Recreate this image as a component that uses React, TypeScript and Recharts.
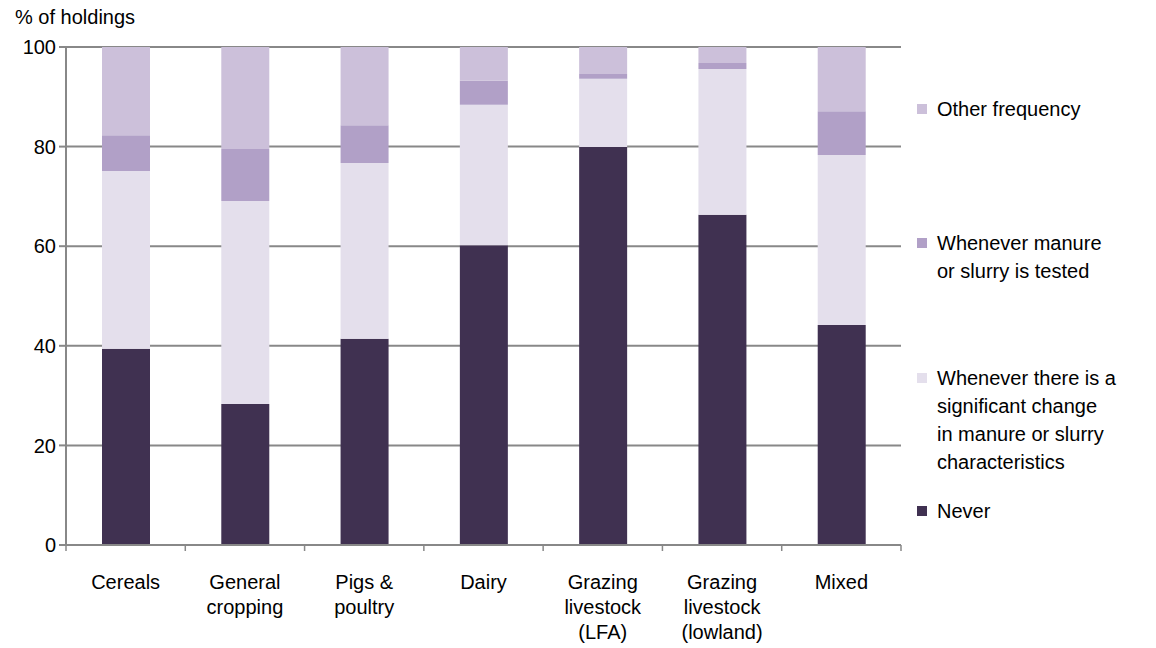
import React from 'react';
import { BarChart, Bar, XAxis, YAxis, CartesianGrid } from 'recharts';

const categories = [
  'Cereals',
  'General|cropping',
  'Pigs &|poultry',
  'Dairy',
  'Grazing|livestock|(LFA)',
  'Grazing|livestock|(lowland)',
  'Mixed',
];
const never = [39.4, 28.3, 41.4, 60.2, 79.9, 66.3, 44.2];
const significantChange = [35.7, 40.8, 35.3, 28.2, 13.7, 29.3, 34.1];
const whenTested = [7.2, 10.4, 7.6, 4.8, 1.0, 1.2, 8.8];
const otherFrequency = [17.7, 20.5, 15.7, 6.8, 5.4, 3.2, 12.9];
const yTicks = [0, 20, 40, 60, 80, 100];

const COLORS = {
  never: '#403151',
  change: '#e4dfec',
  tested: '#b1a0c7',
  other: '#ccc0da',
};

const legendItems = [
  { label: ['Other frequency'], color: COLORS.other, top: 95 },
  { label: ['Whenever manure', 'or slurry is tested'], color: COLORS.tested, top: 229 },
  {
    label: ['Whenever there is a', 'significant change', 'in manure or slurry', 'characteristics'],
    color: COLORS.change,
    top: 364,
  },
  { label: ['Never'], color: COLORS.never, top: 497 },
];

const data = categories.map((c, i) => ({
  name: c,
  never: never[i],
  change: significantChange[i],
  tested: whenTested[i],
  other: otherFrequency[i],
}));

const FONT = '"Liberation Sans", Arial, sans-serif';
const HALF_STEP = (901 - 66) / categories.length / 2;

const XTick = (props: any) => {
  const { x, y, payload, index } = props;
  const lines = String(payload.value).split('|');
  return (
    <g>
      <line x1={x - HALF_STEP} x2={x - HALF_STEP} y1={y} y2={y + 6} stroke="#888" strokeWidth={1.5} />
      {index === categories.length - 1 && (
        <line x1={x + HALF_STEP} x2={x + HALF_STEP} y1={y} y2={y + 6} stroke="#888" strokeWidth={1.5} />
      )}
      {lines.map((l, i) => (
        <text key={i} x={x} y={y + 44 + i * 25} textAnchor="middle" fontSize={20} fill="#000" fontFamily={FONT}>
          {l}
        </text>
      ))}
    </g>
  );
};

export default function App() {
  return (
    <div style={{ position: 'fixed', left: 0, top: 0, width: 1156, height: 648, background: '#fff', fontFamily: FONT }}>
      <div style={{ position: 'absolute', left: 15, top: 6, fontSize: 20, color: '#000' }}>% of holdings</div>
      <BarChart
        width={1156}
        height={648}
        data={data}
        margin={{ top: 47, right: 255, bottom: 0, left: 0 }}
        barSize={48}
      >
        <CartesianGrid vertical={false} stroke="#888" strokeWidth={2} />
        <XAxis
          dataKey="name"
          tick={<XTick />}
          tickLine={false}
          tickSize={0}
          tickMargin={0}
          axisLine={{ stroke: '#888', strokeWidth: 2 }}
          interval={0}
          height={103}
        />
        <YAxis
          domain={[0, 100]}
          ticks={yTicks}
          width={66}
          tickSize={7}
          tickMargin={3}
          tickLine={{ stroke: '#888', strokeWidth: 2 }}
          axisLine={{ stroke: '#888', strokeWidth: 2 }}
          tick={{ fontSize: 20, fill: '#000', fontFamily: FONT }}
        />
        <Bar dataKey="never" stackId="a" fill={COLORS.never} isAnimationActive={false} />
        <Bar dataKey="change" stackId="a" fill={COLORS.change} isAnimationActive={false} />
        <Bar dataKey="tested" stackId="a" fill={COLORS.tested} isAnimationActive={false} />
        <Bar dataKey="other" stackId="a" fill={COLORS.other} isAnimationActive={false} />
      </BarChart>
      {legendItems.map((item, i) => (
        <div key={i} style={{ position: 'absolute', left: 917, top: item.top, fontSize: 20, lineHeight: '28px', color: '#000' }}>
          <div style={{ position: 'absolute', left: 0, top: 9, width: 10, height: 10, background: item.color }} />
          <div style={{ marginLeft: 20, whiteSpace: 'nowrap' }}>
            {item.label.map((l, j) => (
              <div key={j}>{l}</div>
            ))}
          </div>
        </div>
      ))}
    </div>
  );
}
